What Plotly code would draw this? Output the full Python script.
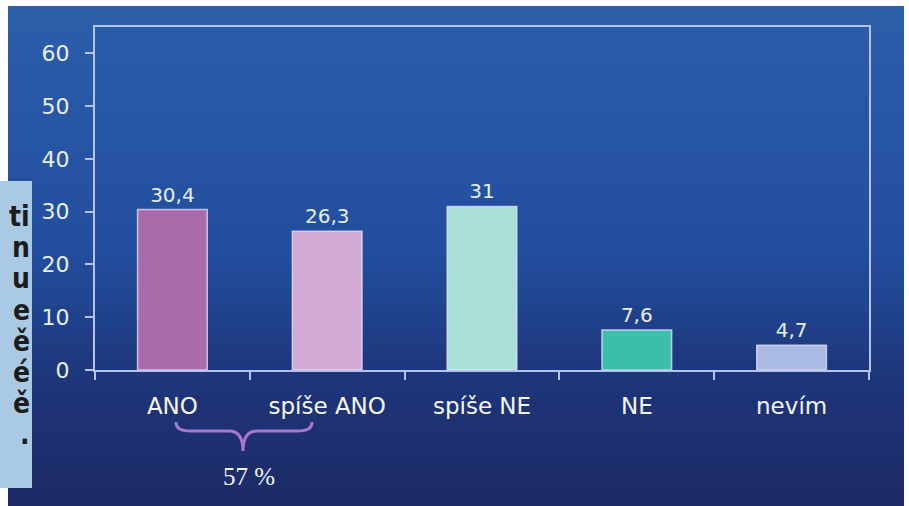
import plotly.graph_objects as go

# Survey answers and their shares (%)
categories = ["ANO", "spíše ANO", "spíše NE", "NE", "nevím"]
values = [30.4, 26.3, 31, 7.6, 4.7]
bar_colors = ["#a96bab", "#d3a9d5", "#aadfd8", "#3bbfa9", "#a9bbe2"]
y_ticks = [0, 10, 20, 30, 40, 50, 60]
sum_label = "57 %"
side_text = ["ti", "n", "u", "e", "ě", "é", "ě", "."]

W, H = 909, 506
L, R, T, B = 95, 40, 27, 136
PW, PH = W - L - R, H - T - B


def px_x(px):
    return (px - L) / PW


def px_y(py):
    return (H - B - py) / PH


def fmt(v):
    s = f"{v:g}"
    return s.replace(".", ",")


fig = go.Figure()
fig.add_trace(go.Bar(
    x=categories,
    y=values,
    width=0.45,
    marker=dict(color=bar_colors, line=dict(color="rgba(235,228,248,0.75)", width=1.5)),
    text=[fmt(v) for v in values],
    textposition="outside",
    textfont=dict(family="DejaVu Sans", size=20, color="#e8eefa"),
    cliponaxis=False,
    hoverinfo="skip",
))

shapes = []
# vertical blue gradient panel
stops = [(6, (45, 94, 170)), (250, (33, 78, 158)), (380, (30, 53, 122)), (506, (29, 42, 102))]
n_strips = 100
top, bottom = 6, 506
for i in range(n_strips):
    y0 = top + (bottom - top) * i / n_strips
    y1 = top + (bottom - top) * (i + 1) / n_strips
    ym = (y0 + y1) / 2
    for (a, ca), (b, cb) in zip(stops[:-1], stops[1:]):
        if a <= ym <= b:
            t = (ym - a) / (b - a)
            c = tuple(round(ca[k] + (cb[k] - ca[k]) * t) for k in range(3))
            break
    shapes.append(dict(type="rect", xref="paper", yref="paper",
                       x0=px_x(8), x1=px_x(904), y0=px_y(y1 + 0.5), y1=px_y(y0),
                       fillcolor=f"rgb{c}", line=dict(width=0), layer="below"))

# side text box
shapes.append(dict(type="rect", xref="paper", yref="paper",
                   x0=px_x(-6), x1=px_x(32), y0=px_y(488), y1=px_y(181),
                   fillcolor="#a9c9e4", line=dict(width=0), layer="below"))

# brace grouping the two positive answers
def bx(px):
    return (px - (L + PW / 10)) / (PW / 5)


yl, yh, yt = px_y(422), px_y(431), px_y(451)
xa, xm, xb = bx(176), bx(243), bx(312)
d = bx(190) - bx(176)
path = (f"M {xa},{yl} Q {xa},{yh} {xa + d},{yh} L {xm - d},{yh} "
        f"Q {xm},{yh} {xm},{yt} Q {xm},{yh} {xm + d},{yh} "
        f"L {xb - d},{yh} Q {xb},{yh} {xb},{yl}")
shapes.append(dict(type="path", xref="x", yref="paper", path=path,
                   line=dict(color="#a878c8", width=3)))

annotations = [dict(
    x=bx(249), y=px_y(476), xref="x", yref="paper", text=sum_label, showarrow=False,
    font=dict(family="Liberation Serif", size=25, color="#f2f2f8"),
    xanchor="center", yanchor="middle",
)]
for i, s in enumerate(side_text):
    annotations.append(dict(
        x=px_x(32), y=px_y(228 + 31.2 * i), xref="paper", yref="paper",
        text=f"<b>{s}</b>", showarrow=False, xanchor="right", yanchor="bottom",
        font=dict(family="DejaVu Sans Condensed, Liberation Sans, sans-serif",
                  size=28, color="#1c1c1c"),
        yshift=-7,
    ))

axis_color = "#b6c2f0"
fig.update_layout(
    width=W, height=H,
    margin=dict(l=L, r=R, t=T, b=B, pad=0),
    paper_bgcolor="white",
    plot_bgcolor="rgba(0,0,0,0)",
    showlegend=False,
    shapes=shapes,
    annotations=annotations,
    xaxis=dict(
        type="category", showgrid=False, zeroline=False,
        showline=True, mirror=True, linecolor=axis_color, linewidth=2,
        ticks="outside", tickson="boundaries", ticklen=8, tickwidth=2, tickcolor=axis_color,
        tickfont=dict(family="DejaVu Sans", size=23, color="#f4f6fc"),
        ticklabelstandoff=14,
    ),
    yaxis=dict(
        range=[0, 65], tickvals=y_ticks, showgrid=False, zeroline=False,
        showline=True, mirror=True, linecolor=axis_color, linewidth=2,
        ticks="outside", ticklen=8, tickwidth=2, tickcolor=axis_color,
        tickfont=dict(family="DejaVu Sans", size=22, color="#e8eefa"),
        ticklabelstandoff=11,
    ),
)

fig.write_html("out.html")
